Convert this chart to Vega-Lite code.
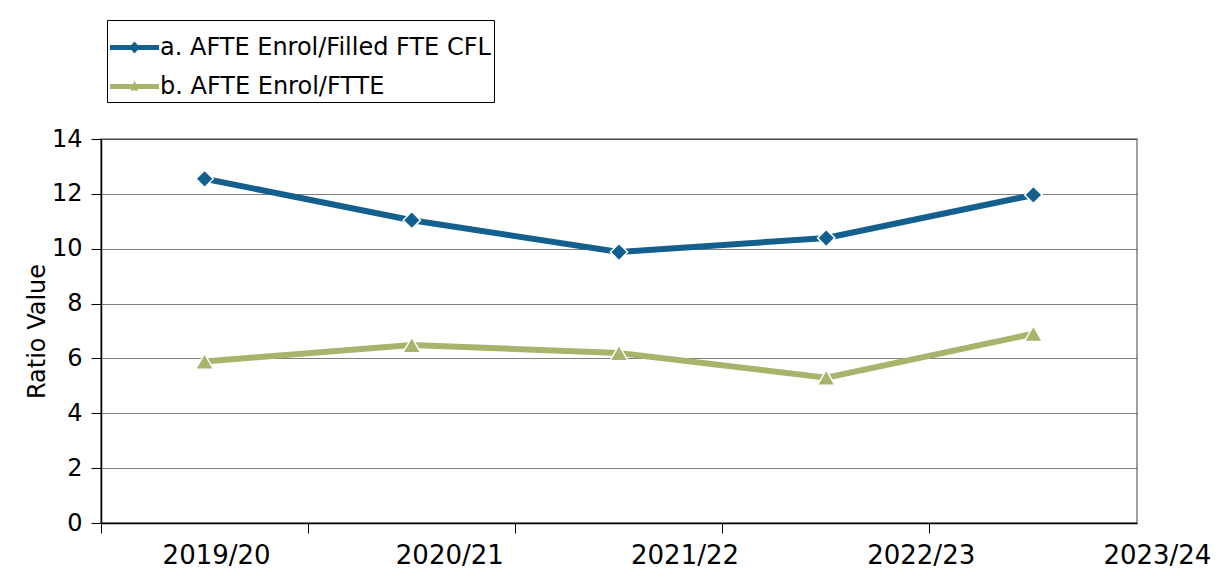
{
  "$schema": "https://vega.github.io/schema/vega-lite/v6.json",
  "autosize": "none",
  "width": 1036,
  "height": 384,
  "padding": {"left": 101, "top": 139, "right": 88, "bottom": 63},
  "background": "white",
  "config": {
    "font": "DejaVu Sans",
    "view": {"stroke": "#808080", "strokeWidth": 1.5},
    "legend": {
      "title": null,
      "orient": "none",
      "legendX": 6,
      "legendY": -119,
      "labelFont": "DejaVu Sans",
      "labelFontSize": 24,
      "labelColor": "black",
      "labelLimit": 600,
      "labelOffset": 1,
      "symbolSize": 2400,
      "symbolStrokeWidth": 0,
      "symbolOpacity": 1,
      "rowPadding": 2,
      "padding": 3,
      "strokeColor": "black",
      "fillColor": "white"
    }
  },
  "data": {
    "values": [
      {"series": "a. AFTE Enrol/Filled FTE CFL", "year": "2019/20", "value": 12.55},
      {"series": "a. AFTE Enrol/Filled FTE CFL", "year": "2020/21", "value": 11.04},
      {"series": "a. AFTE Enrol/Filled FTE CFL", "year": "2021/22", "value": 9.88},
      {"series": "a. AFTE Enrol/Filled FTE CFL", "year": "2022/23", "value": 10.39},
      {"series": "a. AFTE Enrol/Filled FTE CFL", "year": "2023/24", "value": 11.96},
      {"series": "b. AFTE Enrol/FTTE", "year": "2019/20", "value": 5.89},
      {"series": "b. AFTE Enrol/FTTE", "year": "2020/21", "value": 6.49},
      {"series": "b. AFTE Enrol/FTTE", "year": "2021/22", "value": 6.2},
      {"series": "b. AFTE Enrol/FTTE", "year": "2022/23", "value": 5.3},
      {"series": "b. AFTE Enrol/FTTE", "year": "2023/24", "value": 6.9}
    ]
  },
  "encoding": {
    "x": {
      "field": "year",
      "type": "nominal",
      "sort": null,
      "scale": {"type": "band", "paddingInner": 0, "paddingOuter": 0},
      "axis": {
        "title": null,
        "labelAngle": 0,
        "labelFont": "DejaVu Sans",
        "labelFontSize": 26,
        "labelColor": "black",
        "labelPadding": 9,
        "bandPosition": 0,
        "tickSize": 10,
        "tickColor": "black",
        "domainColor": "black",
        "domainWidth": 1.5,
        "labelOffset": {
          "condition": [
            {"test": "datum.value === '2020/21'", "value": 38},
            {"test": "datum.value === '2021/22'", "value": 66},
            {"test": "datum.value === '2022/23'", "value": 95},
            {"test": "datum.value === '2023/24'", "value": 124}
          ],
          "value": 12
        }
      }
    },
    "y": {
      "field": "value",
      "type": "quantitative",
      "scale": {"domain": [0, 14], "nice": false},
      "axis": {
        "title": "Ratio Value",
        "titleFont": "DejaVu Sans",
        "titleFontSize": 24,
        "titleFontWeight": "normal",
        "titleColor": "black",
        "titlePadding": 2,
        "values": [0, 2, 4, 6, 8, 10, 12, 14],
        "labelFont": "DejaVu Sans",
        "labelFontSize": 24,
        "labelColor": "black",
        "labelPadding": 9,
        "tickSize": 10,
        "tickColor": "black",
        "domainColor": "black",
        "domainWidth": 1.5,
        "grid": true,
        "gridColor": "#000000",
        "gridDash": [1, 1],
        "gridWidth": 1
      }
    }
  },
  "layer": [
    {
      "mark": {"type": "line", "strokeWidth": 6},
      "encoding": {
        "stroke": {
          "field": "series",
          "type": "nominal",
          "scale": {"domain": ["a. AFTE Enrol/Filled FTE CFL", "b. AFTE Enrol/FTTE"], "range": ["#135f8e", "#a8b46b"]}
        }
      }
    },
    {
      "transform": [{"filter": "datum.series === 'a. AFTE Enrol/Filled FTE CFL'"}],
      "mark": {"type": "point", "shape": "diamond", "filled": true, "size": 300, "opacity": 1, "fill": "#135f8e", "stroke": "white", "strokeWidth": 1.5}
    },
    {
      "transform": [{"filter": "datum.series === 'b. AFTE Enrol/FTTE'"}],
      "mark": {"type": "point", "shape": "triangle-up", "filled": true, "size": 320, "opacity": 1, "fill": "#a8b46b", "stroke": "white", "strokeWidth": 1.5}
    },
    {
      "mark": {"type": "point", "filled": true, "size": 0, "opacity": 1},
      "encoding": {
        "color": {
          "field": "series",
          "type": "nominal",
          "scale": {"domain": ["a. AFTE Enrol/Filled FTE CFL", "b. AFTE Enrol/FTTE"], "range": ["#135f8e", "#a8b46b"]}
        },
        "shape": {
          "field": "series",
          "type": "nominal",
          "scale": {
            "domain": ["a. AFTE Enrol/Filled FTE CFL", "b. AFTE Enrol/FTTE"],
            "range": [
              "M-1,-0.1H1V0.1H-1Z M0,-0.25L0.22,0L0,0.25L-0.22,0Z",
              "M-1,-0.1H1V0.1H-1Z M0,-0.26L0.16,0.16H-0.16Z"
            ]
          }
        }
      }
    }
  ]
}
